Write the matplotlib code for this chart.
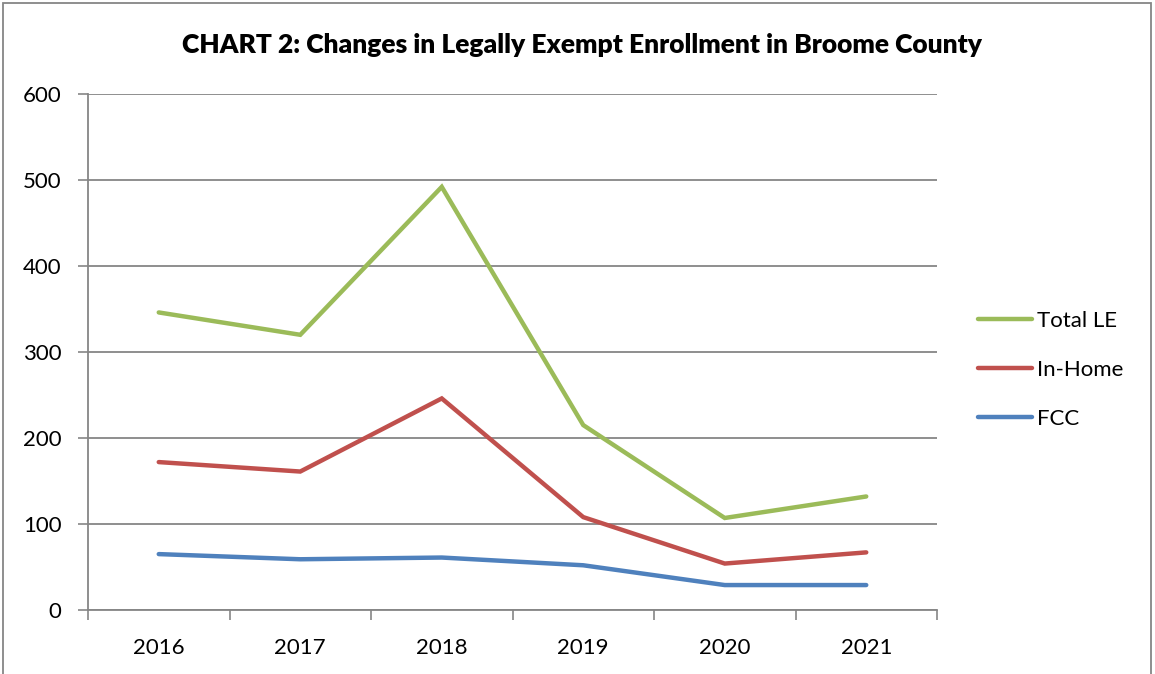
import matplotlib
matplotlib.use("Agg")
import matplotlib.pyplot as plt
from matplotlib.patches import Rectangle

years = ["2016", "2017", "2018", "2019", "2020", "2021"]
total_le = [346, 320, 492, 215, 107, 132]
in_home = [172, 161, 246, 108, 54, 67]
fcc = [65, 59, 61, 52, 29, 29]

series_names = ["Total LE", "In-Home", "FCC"]
series_colors = ["#9BBB59", "#C0504D", "#4F81BD"]

plt.rcParams["font.family"] = ["Lato", "DejaVu Sans"]

fig = plt.figure(figsize=(11.55, 6.74), dpi=100)
ax = fig.add_axes([88 / 1155, 1 - 610 / 674, (937 - 88) / 1155, (610 - 94) / 674])

x = list(range(len(years)))
for vals, name, col in zip([total_le, in_home, fcc], series_names, series_colors):
    ax.plot(x, vals, color=col, lw=3.2, label=name, solid_capstyle="round",
            solid_joinstyle="miter")

ax.set_xlim(-0.5, len(years) - 0.5)
ax.set_ylim(0, 600)
ax.set_yticks(range(0, 601, 100))
ax.set_xticks(x)
ax.set_xticklabels(years)
ax.set_xticks([i - 0.5 for i in range(len(years) + 1)], minor=True)
ax.tick_params(axis="x", which="major", length=0, pad=20, labelsize=16)
ax.tick_params(axis="x", which="minor", length=7, color="#868686", width=1.2)
ax.tick_params(axis="y", length=7, color="#868686", width=1.2, labelsize=16, pad=12)
ax.grid(axis="y", color="#868686", lw=1.3)
ax.set_axisbelow(True)
for side in ["top", "right"]:
    ax.spines[side].set_visible(False)
for side in ["left", "bottom"]:
    ax.spines[side].set_color("#868686")
    ax.spines[side].set_linewidth(1.3)

fig.text(582 / 1155, 1 - 45 / 674, "CHART 2: Changes in Legally Exempt Enrollment in Broome County",
         ha="center", va="center", fontsize=19, fontweight="heavy")

leg = ax.legend(loc="center left", bbox_to_anchor=(958 / 1155, 1 - 370 / 674),
                bbox_transform=fig.transFigure, frameon=False, fontsize=16,
                handlelength=2.45, handletextpad=0.2, labelspacing=1.3)

fig.patches.append(Rectangle((3 / 1155, -0.01), 1148 / 1155, 1 - 3 / 674 + 0.01,
                             transform=fig.transFigure, fill=False,
                             edgecolor="#868686", lw=1.3))

fig.savefig("out.png", dpi=100)
